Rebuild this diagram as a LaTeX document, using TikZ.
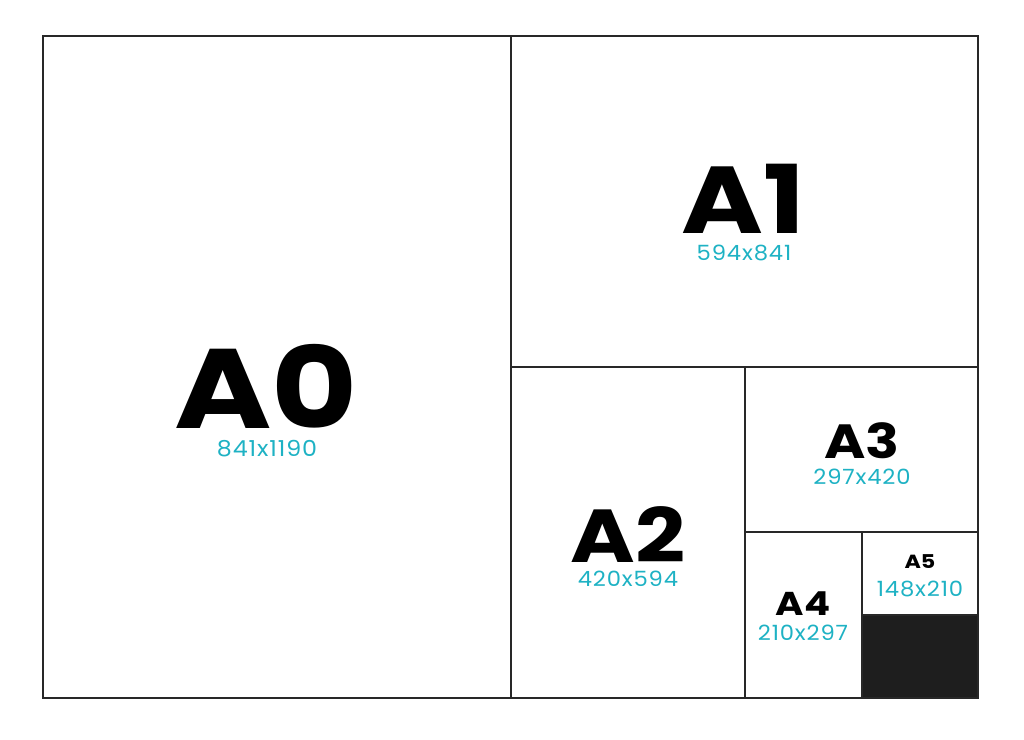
\documentclass[tikz,border=0pt]{standalone}
\usepackage{fontspec}
\setmainfont{Poppins}
\newfontfamily\heavyfont{Poppins}[UprightFont=*-Bold,BoldFont=*-Bold,FakeStretch=1.17]
\newfontfamily\dimfont{Poppins}[FakeStretch=1.08,LetterSpace=4]
\definecolor{teal}{RGB}{30,178,196}
\definecolor{frame}{RGB}{40,40,40}
\definecolor{blk}{RGB}{30,30,30}
\begin{document}
\begin{tikzpicture}[x=1pt,y=-1pt,
  box/.style={draw=frame,line width=2pt},
  big/.style={anchor=base,font=\heavyfont\bfseries\fontsize{#1}{#1}\selectfont,text=black,inner sep=0pt,text depth=0pt},
  dim/.style={anchor=base,font=\dimfont\fontsize{#1}{#1}\selectfont,text=teal,inner sep=0pt}]
\useasboundingbox (0,0) rectangle (1024,739);
\fill[white] (0,0) rectangle (1024,739);
\fill[blk] (862,615) rectangle (978,698);
\draw[box] (43,36) rectangle (511,698);
\draw[box] (511,36) rectangle (978,367);
\draw[box] (511,367) rectangle (745,698);
\draw[box] (745,367) rectangle (978,532);
\draw[box] (745,532) rectangle (862,698);
\draw[box] (862,532) rectangle (978,615);
\draw[box] (862,615) rectangle (978,698);
\node[big=113] (a0) at (266,428) {A0};
\node[dim=22] (a0s) at (267,456) {841x1190};
\node[big=95] (a1) at (743,233) {A1};
\node[dim=21] (a1s) at (744,260) {594x841};
\node[big=75] (a2) at (628,562) {A2};
\node[dim=21] (a2s) at (628,586) {420x594};
\node[big=48] (a3) at (862,458) {A3};
\node[dim=21] (a3s) at (862,484) {297x420};
\node[big=33] (a4) at (803,615) {A4};
\node[dim=21] (a4s) at (803,640) {210x297};
\node[big=19] (a5) at (920,568) {A5};
\node[dim=21] (a5s) at (920,596) {148x210};
\end{tikzpicture}
\end{document}
